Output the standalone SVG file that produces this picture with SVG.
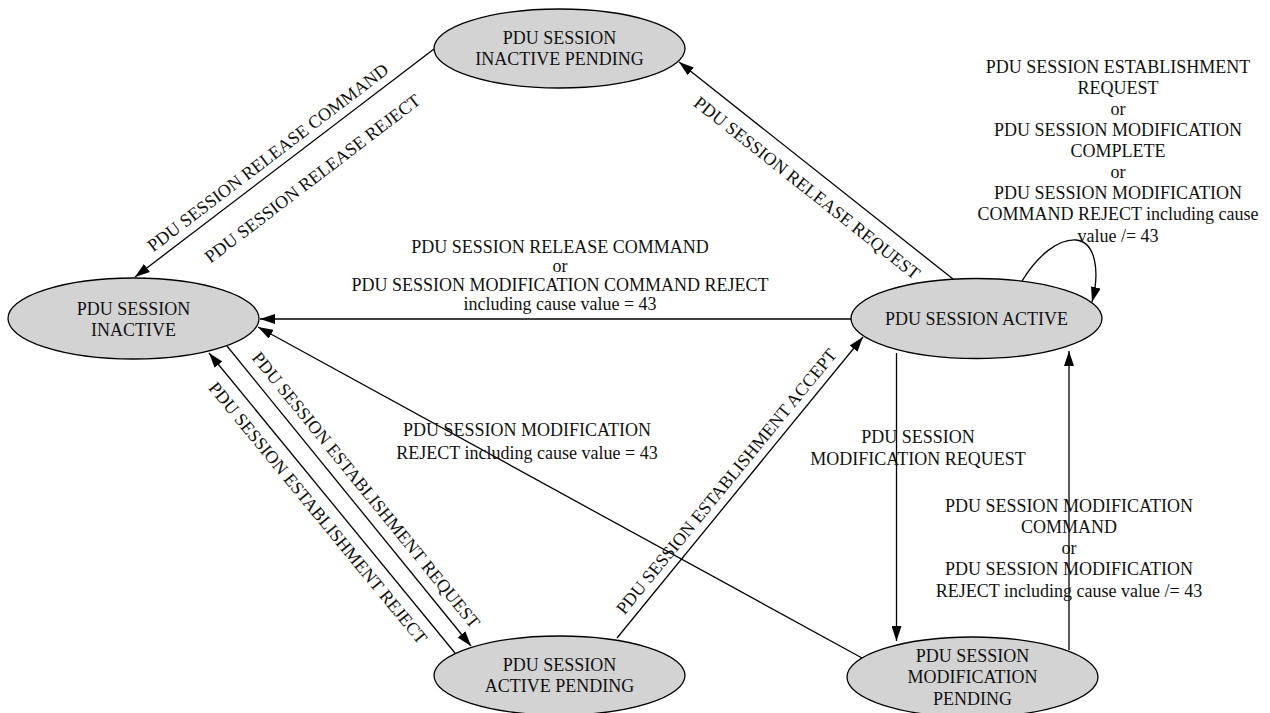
<svg xmlns="http://www.w3.org/2000/svg" width="1270" height="713" viewBox="0 0 1270 713">
<style>
.node ellipse{fill:#d3d3d3;stroke:#000;stroke-width:1.3}
text{font-family:"Liberation Serif","Times New Roman",serif;font-size:18px;fill:#111;text-anchor:middle}
.edge{fill:none;stroke:#000;stroke-width:1.3;marker-end:url(#arr)}
</style>
<defs>
<marker id="arr" markerUnits="userSpaceOnUse" viewBox="0 0 15 10" refX="15" refY="5" markerWidth="15" markerHeight="10" orient="auto">
<path d="M0,0 L15,5 L0,10 z" fill="#000"/>
</marker>
</defs>
<rect width="1270" height="713" fill="#fff"/>
<g id="connectors">
<path class="edge" d="M434,49 L135,277"/>
<path class="edge" d="M953,279 L679,62"/>
<path class="edge" d="M851,319 L260,319"/>
<path class="edge" d="M227,346 L471,646"/>
<path class="edge" d="M455,653 L209,353"/>
<path class="edge" d="M617,638 L863,337"/>
<path class="edge" d="M862,658 L258,327"/>
<path class="edge" d="M896.5,353 L896.5,641"/>
<path class="edge" d="M1069,650 L1069,351"/>
<path class="edge" d="M1022,281 C1038,255 1058,239 1076,240 C1096,242 1100,272 1092,302"/>
<text x="271.6" y="162.3" transform="rotate(-37.3 271.6 162.3)">PDU SESSION RELEASE COMMAND</text>
<text x="316.1" y="183.3" transform="rotate(-37.3 316.1 183.3)">PDU SESSION RELEASE REJECT</text>
<text x="803.3" y="192.7" transform="rotate(38.4 803.3 192.7)">PDU SESSION RELEASE REQUEST</text>
<text x="361.3" y="493.8" transform="rotate(50.9 361.3 493.8)">PDU SESSION ESTABLISHMENT REQUEST</text>
<text x="313.4" y="516.8" transform="rotate(50.6 313.4 516.8)">PDU SESSION ESTABLISHMENT REJECT</text>
<text x="731.1" y="485.3" transform="rotate(-50.7 731.1 485.3)">PDU SESSION ESTABLISHMENT ACCEPT</text>
<text x="560" y="253">PDU SESSION RELEASE COMMAND</text>
<text x="560" y="272">or</text>
<text x="560" y="291">PDU SESSION MODIFICATION COMMAND REJECT</text>
<text x="560" y="310">including cause value = 43</text>
<text x="527" y="436">PDU SESSION MODIFICATION</text>
<text x="527" y="459">REJECT including cause value = 43</text>
<text x="918" y="443">PDU SESSION</text>
<text x="918" y="465">MODIFICATION REQUEST</text>
<text x="1069" y="512">PDU SESSION MODIFICATION</text>
<text x="1069" y="533">COMMAND</text>
<text x="1069" y="554">or</text>
<text x="1069" y="575">PDU SESSION MODIFICATION</text>
<text x="1069" y="597">REJECT including cause value /= 43</text>
<text x="1118" y="73">PDU SESSION ESTABLISHMENT</text>
<text x="1118" y="94">REQUEST</text>
<text x="1118" y="115">or</text>
<text x="1118" y="136">PDU SESSION MODIFICATION</text>
<text x="1118" y="157">COMPLETE</text>
<text x="1118" y="178">or</text>
<text x="1118" y="199">PDU SESSION MODIFICATION</text>
<text x="1118" y="220">COMMAND REJECT including cause</text>
<text x="1118" y="242">value /= 43</text>
</g>
<g id="inactive_pending" class="node">
<ellipse cx="559.5" cy="48.5" rx="125.5" ry="39.5"/>
<text x="559.5" y="44">PDU SESSION</text>
<text x="559.5" y="65">INACTIVE PENDING</text>
</g>
<g id="inactive" class="node">
<ellipse cx="133.5" cy="318.5" rx="125.5" ry="40.5"/>
<text x="133.5" y="315">PDU SESSION</text>
<text x="133.5" y="336">INACTIVE</text>
</g>
<g id="active" class="node">
<ellipse cx="976.5" cy="318.5" rx="125.5" ry="40"/>
<text x="976.5" y="324.5">PDU SESSION ACTIVE</text>
</g>
<g id="active_pending" class="node">
<ellipse cx="559.5" cy="675.5" rx="125.5" ry="39.5"/>
<text x="559.5" y="671">PDU SESSION</text>
<text x="559.5" y="692">ACTIVE PENDING</text>
</g>
<g id="modification_pending" class="node">
<ellipse cx="972.5" cy="677" rx="125.5" ry="40"/>
<text x="972.5" y="662">PDU SESSION</text>
<text x="972.5" y="683">MODIFICATION</text>
<text x="972.5" y="705">PENDING</text>
</g>
</svg>
